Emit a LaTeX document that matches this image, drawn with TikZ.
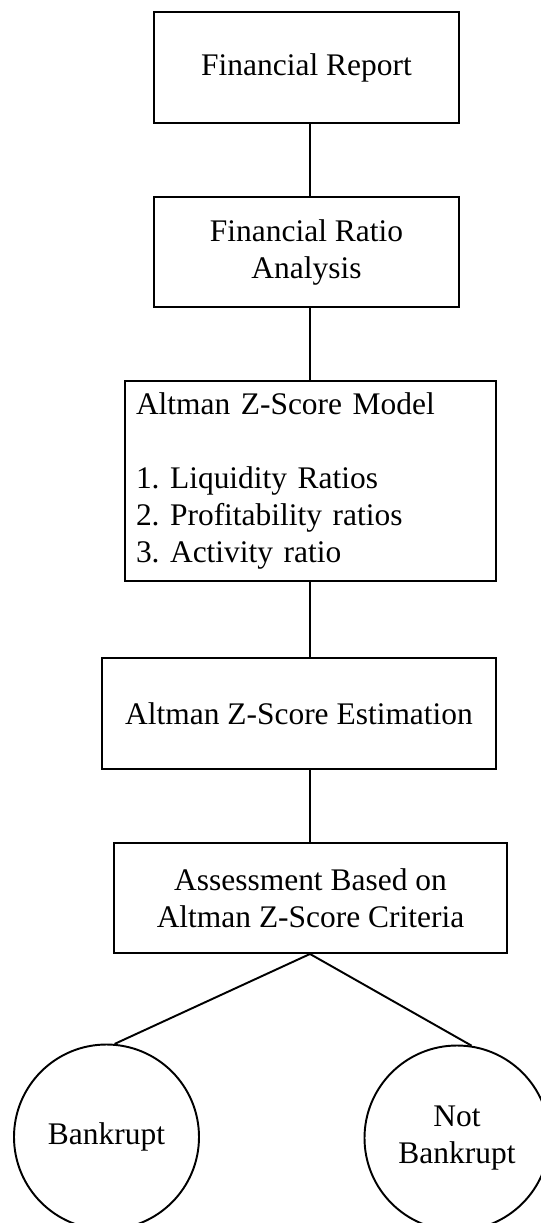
\documentclass[tikz,border=0pt]{standalone}
\usepackage{fontspec}
\setmainfont{Liberation Serif}
\frenchspacing
\begin{document}
\begin{tikzpicture}[
  box/.style={draw, line width=1.1pt, inner sep=0pt, align=center, font=\fontsize{17.9}{21.05}\selectfont},
  circ/.style={draw, circle, line width=1.1pt, inner sep=0pt, minimum size=3.7cm, align=center, font=\fontsize{17.9}{21.05}\selectfont},
  link/.style={line width=1.1pt}]

\useasboundingbox (0,0) rectangle (10.8,-24.46);
\coordinate (spine) at (6.2,0);

\node[box, minimum width=6.1cm, minimum height=2.22cm] (report) at (6.13,-1.35) {Financial Report};
\node[box, minimum width=6.1cm, minimum height=2.2cm] (ratio) at (6.13,-5.04) {Financial Ratio\\Analysis};
\node[box, minimum width=7.42cm, minimum height=4cm, text width=6.98cm, align=left] (model) at (6.21,-9.62)
  {Altman Z-Score Model\\[21.05pt]1. Liquidity Ratios\\2. Profitability ratios\\3. Activity ratio};
\node[box, minimum width=7.88cm, minimum height=2.22cm] (estim) at (5.98,-14.27) {Altman Z-Score Estimation};
\node[box, minimum width=7.86cm, minimum height=2.2cm] (assess) at (6.21,-17.96) {Assessment Based on\\Altman Z-Score Criteria};

\node[circ] (bankrupt) at (2.13,-22.74) {Bankrupt};
\node[circ] (notbankrupt) at (9.14,-22.76) {Not\\Bankrupt};

\draw[link] (report.south -| spine) -- (ratio.north -| spine);
\draw[link] (ratio.south -| spine) -- (model.north -| spine);
\draw[link] (model.south -| spine) -- (estim.north -| spine);
\draw[link] (estim.south -| spine) -- (assess.north -| spine);
\draw[link] (assess.south -| spine) -- (bankrupt.85);
\draw[link] (assess.south -| spine) -- (notbankrupt.81);
\end{tikzpicture}
\end{document}
